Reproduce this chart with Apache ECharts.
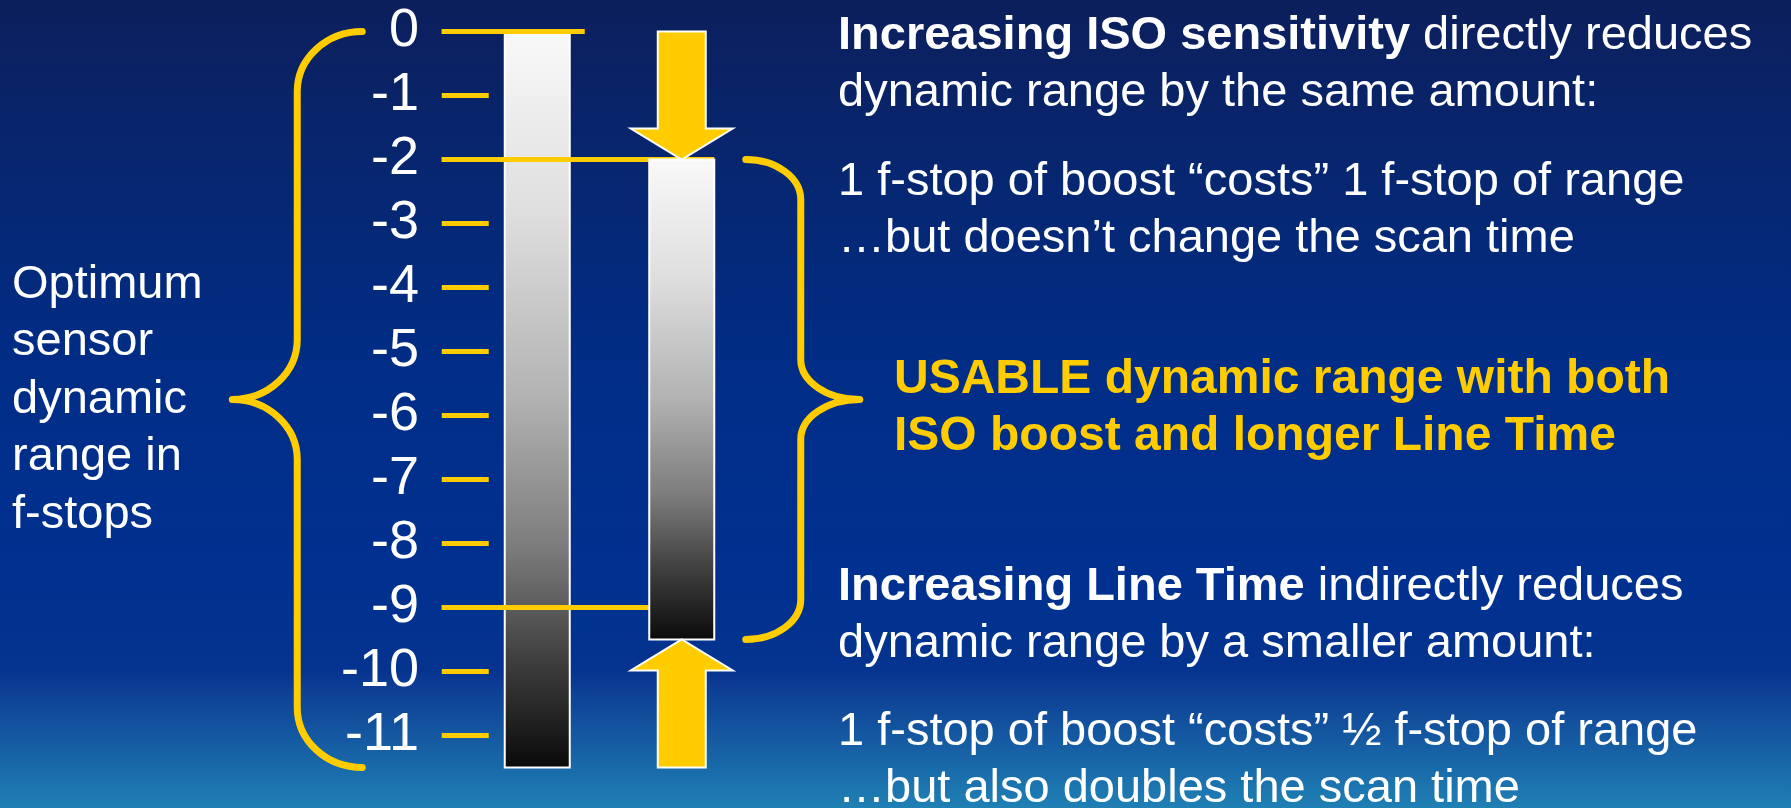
<!DOCTYPE html>
<html>
<head>
<meta charset="utf-8">
<script src="https://cdn.jsdelivr.net/npm/echarts@6/dist/echarts.min.js"></script>
<style>
  html, body { margin: 0; padding: 0; background: #0b1d58; overflow: hidden; }
  #chart { width: 1791px; height: 808px; }
</style>
</head>
<body>
<div id="chart"></div>
<script>
// f-stop scale (0 = brightest, negative = stops below)
const stopTicks = [0, -1, -2, -3, -4, -5, -6, -7, -8, -9, -10, -11];
const columns = ['Optimum', 'Usable'];
// dynamic range of each column, in f-stops
const rangeTop = [0, -2];
const rangeBottom = [-11.5, -9.5];
// ISO boost pushes the ceiling down, longer line time lifts the floor
const isoArrow = [0, -2];            // from, to
const lineTimeArrow = [-11.5, -9.5]; // from, to
// highlighted levels on the scale
const guideLevels = [0, -2, -9];

const FONT = '"Liberation Sans", Arial, Helvetica, sans-serif';
const YELLOW = '#ffcc00';
const BAR_W = 65;

const chart = echarts.init(document.getElementById('chart'), null, { renderer: 'canvas' });

function greyRamp() {
  return new echarts.graphic.LinearGradient(0, 0, 0, 1, [
    { offset: 0, color: '#f9f9f9' },
    { offset: 0.25, color: '#dedede' },
    { offset: 0.5, color: '#b2b2b2' },
    { offset: 0.7, color: '#7c7c7c' },
    { offset: 0.85, color: '#404040' },
    { offset: 1, color: '#0a0a0a' }
  ]);
}

function renderRange(params, api) {
  const c = api.value(0);
  const top = api.coord([c, api.value(1)]);
  const bot = api.coord([c, api.value(2)]);
  return {
    type: 'rect',
    shape: { x: top[0] - BAR_W / 2, y: top[1], width: BAR_W, height: bot[1] - top[1] },
    style: { fill: greyRamp(), stroke: '#ffffff', lineWidth: 2 }
  };
}

// short yellow marks beside each stop label
function renderTick(params, api) {
  const p = api.coord([0, api.value(1)]);
  const x0 = p[0] - BAR_W / 2 - 63;
  return {
    type: 'line',
    shape: { x1: x0, y1: p[1], x2: x0 + 47, y2: p[1] },
    style: { stroke: YELLOW, lineWidth: 5 }
  };
}

// long lines at the highlighted levels, reaching across to the bars
const guideEnds = [
  { col: 0, dx: BAR_W / 2 + 15 },
  { col: 1, dx: BAR_W / 2 },
  { col: 1, dx: -BAR_W / 2 }
];
function renderGuide(params, api) {
  const v = api.value(1);
  const start = api.coord([0, v]);
  const end = guideEnds[params.dataIndex];
  const e = api.coord([end.col, v]);
  return {
    type: 'line',
    shape: { x1: start[0] - BAR_W / 2 - 63, y1: start[1], x2: e[0] + end.dx, y2: e[1] },
    style: { stroke: YELLOW, lineWidth: 5 }
  };
}

function renderArrow(params, api) {
  const c = api.value(0);
  const from = api.coord([c, api.value(1)]);
  const to = api.coord([c, api.value(2)]);
  const cx = from[0];
  const dir = to[1] > from[1] ? 1 : -1;
  const shaft = 24, head = 51, headLen = 31;
  const hb = to[1] - dir * headLen;
  return {
    type: 'polygon',
    shape: {
      points: [
        [cx - shaft, from[1]], [cx + shaft, from[1]], [cx + shaft, hb],
        [cx + head, hb], [cx, to[1]], [cx - head, hb], [cx - shaft, hb]
      ]
    },
    style: { fill: YELLOW, stroke: '#ffffff', lineWidth: 2, lineJoin: 'miter' }
  };
}

// curly braces spanning a range; left column opens to the right, right column to the left
const braceStyle = [
  { side: -1, end: 175, spine: 240, tip: 305, r: 60 },
  { side: 1, end: 64, spine: 119, tip: 178, r: 40 }
];
function renderBrace(params, api) {
  const c = api.value(0);
  const b = braceStyle[c];
  const top = api.coord([c, api.value(1)]);
  const bot = api.coord([c, api.value(2)]);
  const cx = top[0];
  const s = b.side;
  const xe = cx + s * b.end, xs = cx + s * b.spine, xt = cx + s * b.tip;
  const yt = top[1], yb = bot[1], ym = (yt + yb) / 2;
  const r = b.r, k = 0.5523;
  const d = [
    'M', xe, yt,
    'C', xe + (xs - xe) * k, yt, xs, yt + r - r * k, xs, yt + r,
    'L', xs, ym - r,
    'C', xs, ym - r + r * k, xt + (xs - xt) * k, ym, xt, ym,
    'C', xt + (xs - xt) * k, ym, xs, ym + r - r * k, xs, ym + r,
    'L', xs, yb - r,
    'C', xs, yb - r + r * k, xe + (xs - xe) * k, yb, xe, yb
  ].join(' ');
  return {
    type: 'path',
    shape: { pathData: d },
    style: { fill: null, stroke: YELLOW, lineWidth: 7, lineCap: 'round', lineJoin: 'round' }
  };
}

const bg = new echarts.graphic.LinearGradient(0, 0, 0, 1, [
  { offset: 0, color: '#0c1f5c' },
  { offset: 0.2, color: '#07266f' },
  { offset: 0.45, color: '#012d86' },
  { offset: 0.7, color: '#003090' },
  { offset: 0.83, color: '#04348f' },
  { offset: 0.85, color: '#0d3d94' },
  { offset: 1, color: '#1f80b4' }
]);

const textBase = { fill: '#ffffff', fontFamily: FONT, fontSize: 47, lineHeight: 57 };
const boldRich = { b: { fill: '#ffffff', fontFamily: FONT, fontSize: 47, fontWeight: 'bold', lineHeight: 57 } };

chart.setOption({
  animation: false,
  grid: { left: 465, width: 289, top: 31.5, height: 768, containLabel: false },
  xAxis: { type: 'category', data: columns, show: false },
  yAxis: {
    type: 'value', min: -12, max: 0, interval: 1,
    axisLine: { show: false }, axisTick: { show: false }, splitLine: { show: false },
    axisLabel: {
      color: '#ffffff', fontSize: 54, fontFamily: FONT, margin: 46,
      formatter: v => (stopTicks.indexOf(v) >= 0 ? String(v) : '')
    }
  },
  graphic: [
    { type: 'rect', z: -10, silent: true, shape: { x: 0, y: 0, width: 1791, height: 808 }, style: { fill: bg } },
    { type: 'text', x: 12, y: 256, style: Object.assign({}, textBase, {
        text: 'Optimum\nsensor\ndynamic\nrange in\nf-stops', lineHeight: 57.5, verticalAlign: 'top' }) },
    { type: 'text', x: 838, y: 8, style: Object.assign({}, textBase, {
        text: '{b|Increasing ISO sensitivity} directly reduces\ndynamic range by the same amount:',
        rich: boldRich, verticalAlign: 'top' }) },
    { type: 'text', x: 838, y: 154, style: Object.assign({}, textBase, {
        text: '1 f-stop of boost \u201ccosts\u201d 1 f-stop of range\n\u2026but doesn\u2019t change the scan time',
        verticalAlign: 'top' }) },
    { type: 'text', x: 894, y: 351, style: Object.assign({}, textBase, {
        text: 'USABLE dynamic range with both\nISO boost and longer Line Time',
        fill: YELLOW, fontWeight: 'bold', fontSize: 48, verticalAlign: 'top' }) },
    { type: 'text', x: 838, y: 559, style: Object.assign({}, textBase, {
        text: '{b|Increasing Line Time} indirectly reduces\ndynamic range by a smaller amount:',
        rich: boldRich, verticalAlign: 'top' }) },
    { type: 'text', x: 838, y: 704, style: Object.assign({}, textBase, {
        text: '1 f-stop of boost \u201ccosts\u201d \u00bd f-stop of range\n\u2026but also doubles the scan time',
        verticalAlign: 'top' }) }
  ],
  series: [
    {
      name: 'braces', type: 'custom', z: 1, renderItem: renderBrace,
      data: columns.map((c, i) => [i, rangeTop[i], rangeBottom[i]])
    },
    {
      name: 'Optimum', type: 'custom', z: 2, renderItem: renderRange,
      data: [[0, rangeTop[0], rangeBottom[0]]]
    },
    {
      name: 'ticks', type: 'custom', z: 3, renderItem: renderTick,
      data: stopTicks.map(v => [0, v])
    },
    {
      name: 'guides', type: 'custom', z: 3, renderItem: renderGuide,
      data: guideLevels.map(v => [0, v])
    },
    {
      name: 'Usable', type: 'custom', z: 4, renderItem: renderRange,
      data: [[1, rangeTop[1], rangeBottom[1]]]
    },
    {
      name: 'arrows', type: 'custom', z: 5, renderItem: renderArrow,
      data: [[1, isoArrow[0], isoArrow[1]], [1, lineTimeArrow[0], lineTimeArrow[1]]]
    }
  ]
});
</script>
</body>
</html>
